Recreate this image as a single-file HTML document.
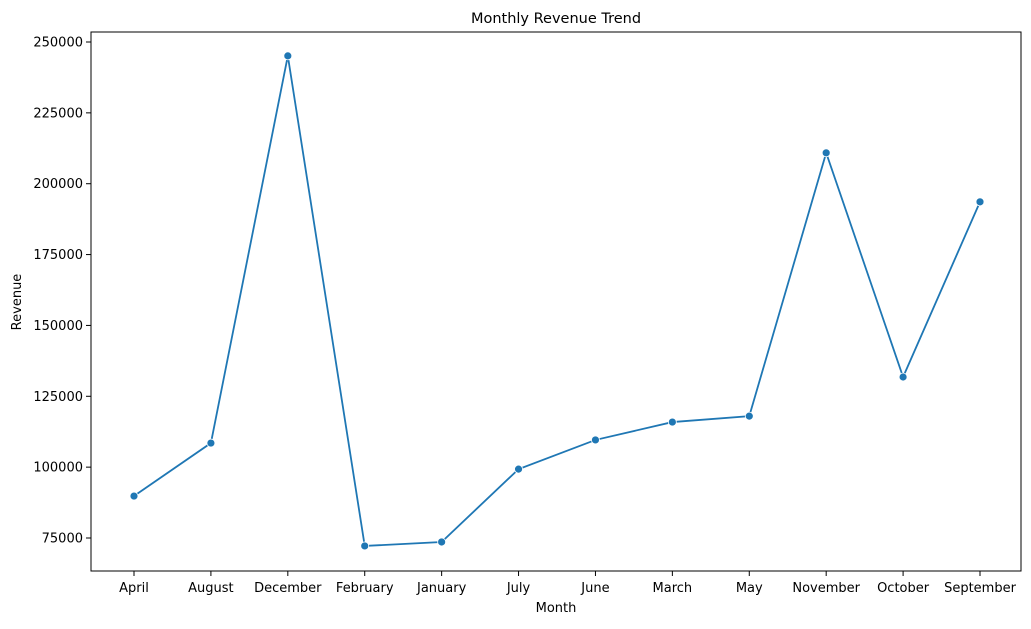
<!DOCTYPE html>
<html><head><meta charset="utf-8"><style>
body{margin:0;background:#fff;font-family:"Liberation Sans","DejaVu Sans",sans-serif;}
svg text{font-family:"DejaVu Sans","Liberation Sans",sans-serif;}
</style></head><body>
<svg id="chart" width="1031" height="624" viewBox="0 0 1031 624" xmlns="http://www.w3.org/2000/svg">
<rect x="0" y="0" width="1031" height="624" fill="#fff"/>
<text x="556" y="23" font-size="14.5" text-anchor="middle" fill="#000">Monthly Revenue Trend</text>
<g id="axes"></g>
<rect x="91" y="32" width="930" height="539" fill="none" stroke="#000" stroke-width="1"/>
<text x="556" y="612" font-size="13" text-anchor="middle">Month</text>
<text x="21" y="302" font-size="13" text-anchor="middle" transform="rotate(-90 21 302)">Revenue</text>
</svg>
<script>
const categories = ["April","August","December","February","January","July","June","March","May","November","October","September"];
const revenue = [89800,108500,245100,72200,73600,99300,109600,115900,118000,210900,131800,193600];
const yTicks = [75000,100000,125000,150000,175000,200000,225000,250000];

const NS="http://www.w3.org/2000/svg";
const g=document.getElementById('axes');
const x0=134, x1=980;
function xScale(i){return x0+(x1-x0)*i/(categories.length-1);}
function yScale(v){return 538+(75000-v)*(496/175000);}
function mk(tag,attrs,parent){const e=document.createElementNS(NS,tag);for(const k in attrs)e.setAttribute(k,attrs[k]);(parent||g).appendChild(e);return e;}

yTicks.forEach(t=>{
  const y=yScale(t);
  const tk=mk('line',{x1:86,x2:91,y1:y,y2:y,stroke:'#000'});
  
  
  const tx=mk('text',{x:83,y:y+4.5,'font-size':13,'text-anchor':'end'});
  tx.textContent=t;
  
  
});
categories.forEach((c,i)=>{
  const x=xScale(i);
  const tk=mk('line',{x1:x,x2:x,y1:571,y2:576,stroke:'#000'});
  
  
  const tx=mk('text',{x:x,y:592,'font-size':13,'text-anchor':'middle'});
  tx.textContent=c;
  
  
});
const pts=revenue.map((v,i)=>xScale(i)+','+yScale(v)).join(' ');
const line=mk('polyline',{points:pts,fill:'none',stroke:'#1f77b4','stroke-width':1.8});


revenue.forEach((v,i)=>{
  const c=mk('circle',{cx:xScale(i),cy:yScale(v),r:4,fill:'#1f77b4',stroke:'#fff','stroke-width':0.8});
  
  
});
</script>
</body></html>
